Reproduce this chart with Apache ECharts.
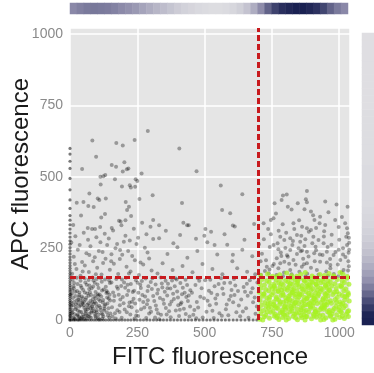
<!DOCTYPE html>
<html><head><meta charset="utf-8">
<script src="https://cdn.jsdelivr.net/npm/echarts@6/dist/echarts.min.js"></script>
<style>html,body{margin:0;padding:0;background:#fff}#c{width:374px;height:373px}</style>
</head><body><div id="c"></div>
<script>
const xTitle = 'FITC fluorescence';
const yTitle = 'APC fluorescence';
const tickStep = 250;
const gateX = 700, gateY = 150;

// marginal density strips (0 = light, 1 = dark navy)
const topDensity = [0.5,0.54,0.57,0.58,0.57,0.56,0.53,0.49,0.45,0.41,0.35,0.3,0.25,0.21,0.17,0.13,0.1,0.08,0.06,0.05,0.04,0.04,0.05,0.07,0.11,0.18,0.3,0.48,0.68,0.84,0.93,0.97,1.0,1.0,0.97,0.92,0.82,0.68,0.57,0.5];
const rightDensity = [1.0,0.98,0.88,0.78,0.66,0.55,0.45,0.37,0.3,0.24,0.19,0.15,0.12,0.1,0.08,0.07,0.06,0.05,0.05,0.05,0.05,0.05,0.05,0.04,0.04,0.04,0.04,0.04,0.04,0.04,0.04,0.03,0.03,0.03,0.03,0.03,0.03,0.03,0.03,0.03,0.03,0.03];

// events piled on the axes
const edgeBottomX = [0,6,13,19,27,34,41,49,56,63,72,80,89,97,106,115,124,133,143,152,162,172,183,193,204,215,226,238,249,261,273,285,297,310,322,335,347,360,373,386,399,412,426,439,452,466,480,494,508,521,535,549,563,577,591,606,620,635,650,665,680,694];
const edgeLeftY = [0,5,11,17,23,29,36,42,49,55,62,69,76,83,90,98,105,113,121,129,137,146,154,163,172,181,190,200,210,220,231,242,253,265,277,290,304,318,333,349,365,390,420,455,495,530,555,580,600];

// grey events, flat x,y pairs
const grayCorner = [3,14,9,27,16,6,21,38,28,19,35,47,42,28,50,11,57,35,64,53,71,22,78,8,85,41,92,64,99,27,106,18,113,44,120,5,4,61,12,52,25,69,33,80,46,62,58,71,69,85,81,31,95,76,2,88,8,105,15,129,40,52,53,4,74,97,88,56,104,85,117,24,31,2,66,44,96,9,128,39];
const grayLowLeftA = [12,8,27,15,41,4,58,22,73,11,89,31,104,6,121,19,137,27,146,9,
9,36,22,44,36,29,51,52,66,38,82,47,97,58,113,35,128,49,143,41,
15,63,31,71,46,57,60,78,76,66,91,84,107,72,122,61,138,79,149,68,
7,92,19,99,34,87,49,105,64,93,80,111,95,98,110,89,125,107,140,96,
13,118,28,126,43,113,57,131,72,121,87,138,102,124,118,134,133,116,148,129,
10,141,25,148,39,137,54,146,69,140,84,149,99,143,114,147,130,142,145,139,
18,3,33,12,48,19,63,5,79,25,94,14,109,2,126,33,141,16,6,24,
23,55,38,68,53,43,68,59,85,73,100,46,116,82,131,54,147,88,11,77,
26,101,40,120,55,96,71,108,86,117,103,90,119,103,135,94,44,82,75,52,
17,20,29,33,44,9,61,16,77,40,93,21,108,50,124,12,59,30,37,7,
5,50,20,84,35,96,52,64,67,13,83,62,98,34,112,66,139,58,150,23,
14,111,30,59,47,76,62,123,78,87,92,130,106,112,123,70,136,101,144,75];
const grayLowLeftB = [158,12,176,34,192,8,211,27,229,45,246,16,264,38,283,7,301,29,319,51,338,18,356,42,374,10,393,33,411,56,430,21,446,47,
163,67,181,88,199,59,217,102,236,74,254,95,272,63,291,118,309,84,327,106,346,71,364,127,383,92,401,79,419,113,438,66,
154,131,172,143,190,119,208,148,226,126,245,139,263,112,281,145,300,133,318,124,337,149,355,137,373,110,392,146,410,129,429,141,447,104,
167,24,185,52,203,37,221,61,240,5,258,71,276,44,294,23,313,66,331,3,349,57,368,31,386,73,405,14,423,39,441,86,
160,96,178,109,196,80,214,123,233,98,251,130,269,87,288,101,306,146,324,93,343,114,361,86,379,138,398,100,416,90,435,122,
170,5,187,72,205,113,224,19,242,58,261,123,279,82,297,43,316,9,334,77,352,99,371,54,389,118,408,36,426,95,444,12,
156,45,174,116,193,142,212,87,230,64,249,31,267,136,286,55,304,108,322,37,341,128,359,19,377,65,396,142,414,61,432,80,
184,28,219,48,253,14,289,69,327,24,362,111,402,52,165,84,201,131,238,102];
const grayLowLeftC = [458,18,476,44,493,9,511,67,529,32,547,88,564,15,582,54,600,105,618,27,636,72,654,41,672,96,689,22,
466,122,484,81,502,139,519,52,537,118,555,24,573,129,591,71,609,143,627,51,645,115,663,8,680,62,696,131,
453,95,471,63,489,111,507,29,525,94,543,57,561,146,579,38,597,84,614,121,632,13,650,99,668,139,686,79,
462,35,480,137,498,76,516,102,534,7,552,126,570,91,588,17,606,62,624,101,642,30,660,85,678,111,694,47,
474,147,521,141,566,110,611,87,657,127,469,6,540,75,595,130,683,148];
const grayMidBand = [8,162,24,178,39,155,55,191,70,168,86,205,101,183,117,159,132,214,148,176,163,197,179,161,194,228,210,186,225,170,241,209,256,157,272,194,288,236,303,173,
14,221,29,246,45,203,61,233,76,258,92,219,107,241,123,199,138,262,154,230,169,251,185,213,200,274,216,241,231,224,247,266,262,201,278,253,294,215,309,283,
5,271,20,293,36,262,51,305,67,281,82,318,98,289,113,272,129,302,144,285,160,313,175,266,191,331,206,295,222,278,237,319,253,288,268,340,284,300,299,326,
325,163,344,198,362,231,381,175,399,254,418,189,436,218,455,167,473,241,492,196,510,272,529,178,547,229,566,160,584,263,603,205,621,181,640,246,658,169,677,223,
331,286,356,312,384,268,409,297,441,331,468,284,503,318,537,262,574,300,612,327,648,281,688,160,18,196,47,170,72,227,96,160,121,238,153,205,186,245,219,163,
155,322,93,318,112,325,66,322,499,295,524,309,605,228];
const grayUpperLeft = [289,661,83,628,172,619,196,610,240,629,97,571,406,600,202,552,155,542,171,536,45,528,196,519,211,527,217,530,266,512,113,501,124,503,131,507,167,492,244,492,250,486,114,474,193,467,222,471,226,463,242,466,72,442,307,436,103,425,109,420,133,425,258,423,25,410,50,413,416,409,68,399,88,395,207,413,219,396,212,385,565,385,595,373,41,365,116,358,130,371,182,347,188,344,206,349,227,364,309,350,331,331,421,340,435,331,605,330,684,336,12,332,560,470,470,520,640,440];
const grayUpperRight = [791,435,805,439,880,451,876,422,880,412,786,420,948,414,760,408,846,408,809,396,871,387,895,379,929,361,908,350,985,350,1031,396,746,350,719,338,756,356,830,338,862,326,880,321,895,315,927,338,948,332,1022,338,1029,321,1032,303,781,291,796,280,818,286,843,297,855,274,874,282,904,291,923,280,942,268,756,262,774,247,818,245,849,251,880,239,907,233,954,239,979,227,1014,251,768,216,796,204,830,210,880,198,929,204,967,192,1004,210,731,186,774,181,818,175,861,186,917,175,967,181,1016,175,
709,158,724,171,738,163,752,189,767,157,781,198,795,166,809,221,823,160,838,193,852,169,866,214,881,162,895,183,909,205,923,158,938,227,952,170,966,213,980,161,995,194,1009,166,1023,220,1036,188,
713,232,728,209,742,255,757,196,771,268,785,224,800,252,814,197,828,276,843,231,857,240,871,259,886,222,900,268,914,244,928,229,943,292,957,255,971,263,986,238,1000,281,1014,229,1029,262,
720,282,746,300,775,312,803,305,833,318,859,295,887,309,914,322,944,310,972,298,998,325,1026,291,736,318,790,335,851,349,903,366,960,377,1010,360,765,372,823,386,990,404,1037,270,1035,235,1034,205,997,153,958,155,874,152,791,153,708,205,702,265,
741,177,783,236,826,262,869,195,912,256,954,201,998,246,1033,173,1037,246,1036,288,862,243,806,226];

// gated (green) events, flat x,y pairs
const greenGate = [705,3,722,11,741,6,758,14,776,2,790,9,812,5,829,13,845,1,861,8,880,12,897,4,915,10,931,0,950,7,968,13,984,3,1002,9,1019,5,1034,12,716,0,768,8,803,0,838,7,873,0,907,15,943,2,976,0,1011,14,
709,22,727,17,746,27,763,19,781,25,798,16,817,29,834,21,852,26,869,18,886,28,904,20,921,24,939,17,957,29,973,22,991,18,1008,27,1026,20,733,29,792,22,858,16,913,28,966,16,1031,29,
703,38,719,33,737,42,754,31,772,40,789,35,807,44,824,32,842,39,859,43,877,34,894,41,911,30,929,37,946,44,963,33,981,40,998,36,1016,43,1035,32,748,45,801,37,869,31,934,42,1004,31,
711,52,729,47,744,58,762,49,779,55,796,46,814,59,831,51,849,57,866,48,883,54,901,50,918,58,936,46,953,53,971,59,988,48,1006,55,1023,50,756,54,821,47,889,59,944,51,1013,58,
706,68,724,61,740,72,757,64,775,70,793,62,810,74,827,66,845,71,862,63,879,73,897,65,914,69,932,61,949,74,967,67,985,72,1002,63,1020,70,1037,66,767,74,838,61,905,75,958,62,
714,83,731,77,749,88,766,80,784,86,801,78,819,89,836,82,854,87,871,79,888,85,906,81,923,90,941,76,958,84,976,89,993,79,1011,86,1028,81,742,80,813,84,881,76,950,88,1034,89,
703,97,721,92,738,102,755,95,773,100,790,93,808,104,825,96,843,101,860,91,877,99,895,104,912,94,930,100,947,92,965,103,982,97,1000,91,1017,102,1033,95,786,105,852,92,919,105,991,99,
710,112,727,107,745,117,762,110,780,115,797,108,815,119,832,111,850,116,867,106,884,114,902,109,919,118,937,107,954,113,972,119,989,110,1007,116,1024,108,759,119,826,106,893,120,963,106,
705,127,722,122,740,132,757,125,775,130,792,123,810,134,827,126,845,131,862,121,879,129,897,134,914,124,932,130,949,122,967,133,984,127,1002,121,1019,131,1036,125,818,128,888,122,941,135,
713,142,731,137,748,147,766,140,783,145,801,138,818,149,836,141,853,146,871,136,888,144,906,149,923,139,941,145,958,137,976,148,993,142,1011,136,1028,146,846,139,915,143,982,150,
708,156,734,161,752,153,779,158,805,164,823,155,857,160,874,166,899,154,928,159,962,163,979,155,1014,160,1030,152,768,152,842,153,945,156,1003,166,
771,14,788,28,806,19,823,41,841,24,858,35,876,12,893,46,911,37,928,15,946,57,963,26,781,63,799,49,816,72,834,58,851,81,869,67,886,93,904,60,921,84,939,71,956,96,774,101,792,87,809,113,827,97,844,124,862,108,879,117,897,88,914,127,932,111,949,119,766,43,803,66,838,89,873,53,908,75,943,38,869,140,822,146,785,128,901,132,958,126,752,110,736,57,719,90,1000,45,1021,82,1009,120,990,62,977,33];

function pairs(a){const o=[];for(let i=0;i+1<a.length;i+=2)o.push([a[i],a[i+1]]);return o;}

const grayData = pairs([].concat(grayCorner, grayLowLeftA, grayLowLeftB, grayLowLeftC, grayMidBand, grayUpperLeft, grayUpperRight));
const edgeData = edgeBottomX.map(x => [x, 0]).concat(edgeLeftY.map(y => [0, y]));
const greenData = pairs(greenGate);

const font = 'Liberation Sans, Arial, sans-serif';
const chart = echarts.init(document.getElementById('c'), null, {renderer: 'canvas'});
chart.setOption({
  animation: false,
  backgroundColor: '#ffffff',
  grid: [
    {left: 70, top: 28, width: 280, height: 292, show: true, backgroundColor: '#e5e5e5', borderWidth: 0, containLabel: false, outerBoundsMode: 'none'},
    {left: 70, top: 3, width: 278, height: 11, containLabel: false, outerBoundsMode: 'none'},
    {left: 362, top: 33, width: 14, height: 292, containLabel: false, outerBoundsMode: 'none'}
  ],
  xAxis: [
    {gridIndex: 0, type: 'value', min: 0, max: 1040, interval: tickStep,
     name: xTitle, nameLocation: 'middle', nameGap: 25,
     nameTextStyle: {fontFamily: font, fontSize: 24, color: '#1a1a1a'},
     axisLine: {show: false}, axisTick: {show: false},
     axisLabel: {color: '#8a8a8a', fontSize: 14, fontFamily: font, margin: 6,
       formatter: v => (v % tickStep === 0 ? String(v) : '')},
     splitLine: {show: true, lineStyle: {color: '#ffffff', width: 1.5}}},
    {gridIndex: 1, type: 'category', data: topDensity.map((_, i) => i), show: false},
    {gridIndex: 2, type: 'category', data: [0], show: false}
  ],
  yAxis: [
    {gridIndex: 0, type: 'value', min: 0, max: 1021, interval: tickStep,
     name: yTitle, nameLocation: 'middle', nameGap: 37, nameMoveOverlap: false,
     nameTextStyle: {fontFamily: font, fontSize: 24, color: '#1a1a1a'},
     axisLine: {show: false}, axisTick: {show: false},
     axisLabel: {color: '#8a8a8a', fontSize: 14, fontFamily: font, margin: 7,
       formatter: v => (v % tickStep === 0 ? String(v) : '')},
     splitLine: {show: true, lineStyle: {color: '#ffffff', width: 1.5}}},
    {gridIndex: 1, type: 'category', data: [0], show: false},
    {gridIndex: 2, type: 'category', data: rightDensity.map((_, i) => i), show: false}
  ],
  visualMap: [{type: 'continuous', show: false, min: 0, max: 1, dimension: 2, seriesIndex: [0, 1],
    inRange: {color: ['#e4e4e6', '#8a88a8', '#1a2152']}}],
  series: [
    {type: 'heatmap', xAxisIndex: 1, yAxisIndex: 1, data: topDensity.map((v, i) => [i, 0, v]),
     itemStyle: {borderWidth: 0}, emphasis: {disabled: true}},
    {type: 'heatmap', xAxisIndex: 2, yAxisIndex: 2, data: rightDensity.map((v, i) => [0, i, v]),
     itemStyle: {borderWidth: 0}, emphasis: {disabled: true}},
    {type: 'scatter', xAxisIndex: 0, yAxisIndex: 0, data: grayData, symbolSize: 4,
     itemStyle: {color: 'rgba(0,0,0,0.42)'}, emphasis: {disabled: true}, z: 2},
    {type: 'scatter', xAxisIndex: 0, yAxisIndex: 0, data: edgeData, symbolSize: 3.2,
     itemStyle: {color: 'rgba(0,0,0,0.65)'}, emphasis: {disabled: true}, z: 2},
    {type: 'scatter', xAxisIndex: 0, yAxisIndex: 0, data: greenData, symbolSize: 5,
     itemStyle: {color: 'rgba(166,242,32,0.92)'}, emphasis: {disabled: true}, z: 3},
    {type: 'scatter', xAxisIndex: 0, yAxisIndex: 0, data: [], z: 5,
     markLine: {silent: true, symbol: 'none', animation: false, label: {show: false},
       lineStyle: {color: '#c81a1e', width: 3, type: [6, 3]},
       data: [{xAxis: gateX}, {yAxis: gateY}]}}
  ]
});
</script></body></html>
